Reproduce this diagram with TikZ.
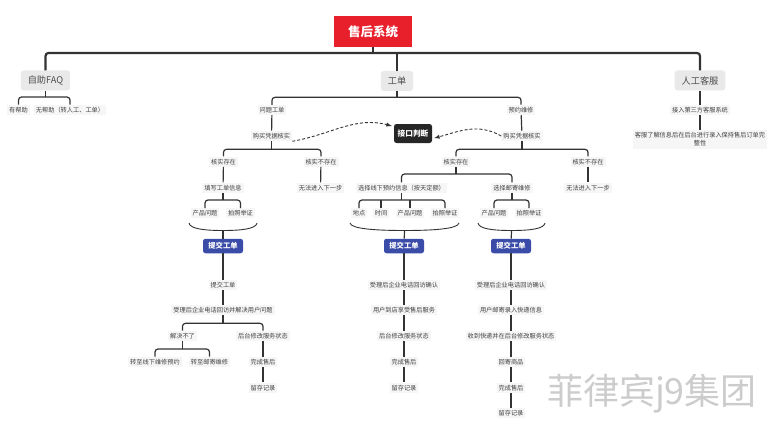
\documentclass[tikz,border=0pt]{standalone}
\usepackage{fontspec}
\newfontfamily\cjk{Noto Sans CJK SC}
\definecolor{rootred}{HTML}{E8202C}
\definecolor{subblue}{HTML}{3A4BA8}
\definecolor{judgeblk}{HTML}{262626}
\definecolor{linegray}{HTML}{333333}
\definecolor{topicgray}{HTML}{E9E9E9}
\definecolor{leafgray}{HTML}{F6F6F6}

\begin{document}
\begin{tikzpicture}[
    x=1pt, y=-1pt,
    root/.style={rectangle, fill=rootred, text=white, font=\cjk\bfseries\fontsize{12.5}{14}\selectfont, minimum width=78pt, minimum height=31pt, inner sep=0pt},
    topic/.style={rectangle, rounded corners=3pt, fill=topicgray, text=black!70, font=\cjk\fontsize{9.2}{11}\selectfont, minimum height=20pt, inner xsep=7pt, inner ysep=0pt},
    leaf/.style={rectangle, fill=leafgray, text=black!75, font=\cjk\fontsize{6.2}{8}\selectfont, inner xsep=2pt, inner ysep=2.2pt},
    submit/.style={rectangle, rounded corners=2.5pt, fill=subblue, text=white, font=\cjk\bfseries\fontsize{7.3}{9}\selectfont, minimum width=40pt, minimum height=14.5pt, inner sep=0pt},
    judge/.style={rectangle, rounded corners=2.5pt, fill=judgeblk, text=white, font=\cjk\bfseries\fontsize{7.7}{9}\selectfont, minimum width=38pt, minimum height=19pt, inner sep=0pt},
    main/.style={draw=linegray, line width=2.2pt, rounded corners=3pt},
    link/.style={draw=linegray, line width=1.2pt, rounded corners=3pt},
    summary/.style={draw=linegray, line width=0.9pt},
    check/.style={draw=linegray, line width=0.9pt, dash pattern=on 3pt off 2pt, shorten >=2pt, -latex}
  ]
    \useasboundingbox (0,0) rectangle (775,425);

    % root and first level
    \node[root] (root) at (373,31.5) {售后系统};
    \node[topic] (faq) at (45.5,80.5) {自助FAQ};
    \node[topic] (ticket) at (397,81) {工单};
    \node[topic] (kefu) at (700,80.5) {人工客服};

    \draw[main] (faq.north) |- (root.south |- 0,53) -| (kefu.north);
    \draw[main] (root.south) -- (root.south |- 0,53);
    \draw[main] (ticket.north) -- (ticket.north |- 0,53);

    % FAQ
    \node[leaf] (faqYes) at (18.5,110) {有帮助};
    \node[leaf] (faqNo) at (70,110) {无帮助（转人工、工单）};
    \draw[link] (faqYes.north) |- (faq.south |- 0,97) -| (faqNo.north);
    \draw[link] (faq.south) -- (faq.south |- 0,97);

    % service desk
    \node[leaf] (kefuLink) at (700,110) {接入第三方客服系统};
    \node[leaf, align=center, font=\cjk\fontsize{6.2}{8.2}\selectfont] (kefuNote) at (700,139.5) {客服了解信息后在后台进行录入保持售后订单完\\整性};
    \draw[link] (kefu) -- (kefuLink);
    \draw[link] (kefuLink) -- (kefuNote);

    % ticket branches
    \node[leaf] (issue) at (272,110) {问题工单};
    \node[leaf] (booking) at (521,110) {预约维修};
    \draw[link] (issue.north) |- (ticket.south |- 0,97.3) -| (booking.north);
    \draw[link] (ticket.south) -- (ticket.south |- 0,97.3);

    \node[judge] (judge) at (413,133.5) {接口判断};

    % problem ticket
    \node[leaf] (issueCheck) at (271.5,136) {购买凭据核实};
    \node[leaf] (issueOk) at (223.5,161.7) {核实存在};
    \node[leaf] (issueNo) at (321,161.7) {核实不存在};
    \node[leaf] (issueForm) at (223,187.7) {填写工单信息};
    \node[leaf] (issueStop) at (320.5,187.7) {无法进入下一步};
    \node[leaf] (issueProd) at (205,213.3) {产品问题};
    \node[leaf] (issuePhoto) at (240.5,213.3) {拍照举证};
    \draw[link] (issue) -- (issueCheck);
    \draw[link] (issueOk.north) |- (issueCheck.south |- 0,149.3) -| (issueNo.north);
    \draw[link] (issueCheck.south) -- (issueCheck.south |- 0,149.3);
    \draw[link] (issueOk) -- (issueForm);
    \draw[link] (issueNo) -- (issueStop);
    \draw[link] (issueProd.north) |- (issueForm.south |- 0,200) -| (issuePhoto.north);
    \draw[link] (issueForm.south) -- (issueForm.south |- 0,200);

    \coordinate (braceAl) at (189,223);
    \coordinate (braceAr) at (257,223);
    \coordinate (braceAm) at (223,230.5);
    \draw[summary] (braceAl) .. controls +(1,6) and +(-18,0) .. (braceAm) .. controls +(18,0) and +(-1,6) .. (braceAr);

    \node[submit] (subA) at (223,246) {提交工单};
    \node[leaf] (a1) at (223,285) {提交工单};
    \node[leaf] (a2) at (223,310) {受理后企业电话回访并解决用户问题};
    \node[leaf] (a3) at (182.5,336) {解决不了};
    \node[leaf] (a4) at (263,336) {后台修改服务状态};
    \node[leaf] (a5) at (155,362) {转至线下维修预约};
    \node[leaf] (a6) at (209.5,362) {转至邮寄维修};
    \node[leaf] (a7) at (263,362) {完成售后};
    \node[leaf] (a8) at (263,387.7) {留存记录};
    \draw[link] (braceAm) -- (subA);
    \foreach \a/\b in {subA/a1, a1/a2, a4/a7, a7/a8}
      \draw[link] (\a) -- (\b);
    \draw[link] (a3.north) |- (a2.south |- 0,323.3) -| (a4.north);
    \draw[link] (a2.south) -- (a2.south |- 0,323.3);
    \draw[link] (a5.north) |- (a3.south |- 0,349) -| (a6.north);
    \draw[link] (a3.south) -- (a3.south |- 0,349);

    % repair booking
    \node[leaf] (bookCheck) at (522,136) {购买凭据核实};
    \node[leaf] (bookOk) at (456,161.7) {核实存在};
    \node[leaf] (bookNo) at (588,161.7) {核实不存在};
    \node[leaf] (bookStop) at (588,187.7) {无法进入下一步};
    \node[leaf] (store) at (401.5,187.7) {选择线下预约信息（按天定额）};
    \node[leaf] (mail) at (512,187.7) {选择邮寄维修};
    \node[leaf] (storePlace) at (359,213.3) {地点};
    \node[leaf] (storeTime) at (381,213.3) {时间};
    \node[leaf] (storeProd) at (410,213.3) {产品问题};
    \node[leaf] (storePhoto) at (445,213.3) {拍照举证};
    \node[leaf] (mailProd) at (494,213.3) {产品问题};
    \node[leaf] (mailPhoto) at (529,213.3) {拍照举证};
    \draw[link] (booking) -- (bookCheck);
    \draw[link] (bookOk.north) |- (bookCheck.south |- 0,149.3) -| (bookNo.north);
    \draw[link] (bookCheck.south) -- (bookCheck.south |- 0,149.3);
    \draw[link] (bookNo) -- (bookStop);
    \draw[link] (store.north) |- (bookOk.south |- 0,174) -| (mail.north);
    \draw[link] (bookOk.south) -- (bookOk.south |- 0,174);
    \draw[link] (storePlace.north) |- (store.south |- 0,200) -| (storePhoto.north);
    \draw[link] (store.south) -- (store.south |- 0,200);
    \draw[link] (storeTime.north) -- (storeTime.north |- 0,200);
    \draw[link] (storeProd.north) -- (storeProd.north |- 0,200);
    \draw[link] (mailProd.north) |- (mail.south |- 0,200) -| (mailPhoto.north);
    \draw[link] (mail.south) -- (mail.south |- 0,200);

    \coordinate (braceBl) at (350,223);
    \coordinate (braceBr) at (459,223);
    \coordinate (braceBm) at (404.5,230.5);
    \draw[summary] (braceBl) .. controls +(1,6) and +(-28,0) .. (braceBm) .. controls +(28,0) and +(-1,6) .. (braceBr);
    \coordinate (braceCl) at (478,223);
    \coordinate (braceCr) at (545,223);
    \coordinate (braceCm) at (511.5,230.5);
    \draw[summary] (braceCl) .. controls +(1,6) and +(-18,0) .. (braceCm) .. controls +(18,0) and +(-1,6) .. (braceCr);

    \node[submit] (subB) at (404,246) {提交工单};
    \node[leaf] (b1) at (404,285) {受理后企业电话回访确认};
    \node[leaf] (b2) at (404,310) {用户到店享受售后服务};
    \node[leaf] (b3) at (404,336) {后台修改服务状态};
    \node[leaf] (b4) at (404,362) {完成售后};
    \node[leaf] (b5) at (404,387.7) {留存记录};
    \draw[link] (braceBm) -- (subB);
    \foreach \a/\b in {subB/b1, b1/b2, b2/b3, b3/b4, b4/b5}
      \draw[link] (\a) -- (\b);

    \node[submit] (subC) at (511,246) {提交工单};
    \node[leaf] (c1) at (511,285) {受理后企业电话回访确认};
    \node[leaf] (c2) at (511,310) {用户邮寄录入快递信息};
    \node[leaf] (c3) at (511,336) {收到快递并在后台修改服务状态};
    \node[leaf] (c4) at (511,362) {回寄商品};
    \node[leaf] (c5) at (511,387.7) {完成售后};
    \node[leaf] (c6) at (511,413.3) {留存记录};
    \draw[link] (braceCm) -- (subC);
    \foreach \a/\b in {subC/c1, c1/c2, c2/c3, c3/c4, c4/c5, c5/c6}
      \draw[link] (\a) -- (\b);

    % voucher check goes to the interface
    \draw[check] (issueCheck.south east) to[out=10, in=165] (judge.160);
    \draw[check] (bookCheck.west) to[out=150, in=15] (judge.-15);

    \node[font=\cjk\fontsize{36}{40}\selectfont, text=gray!40] (mark) at (652,394) {菲律宾j9集团};
  \end{tikzpicture}
\end{document}
